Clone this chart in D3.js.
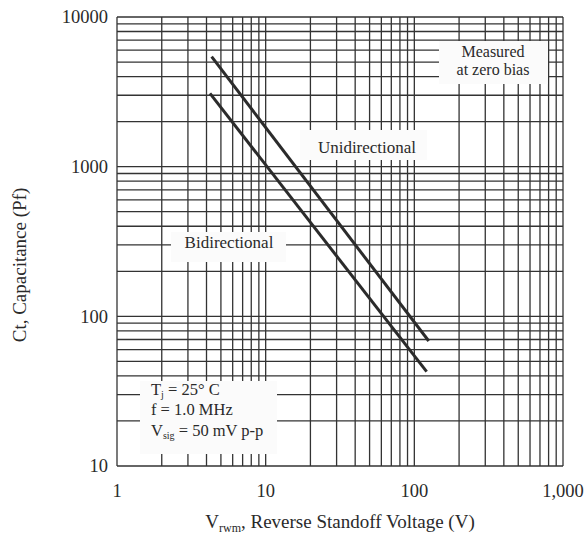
<!DOCTYPE html>
<html>
<head>
<meta charset="utf-8">
<script src="https://cdn.jsdelivr.net/npm/d3@7"></script>
<style>
  html, body { margin: 0; padding: 0; background: #fff; }
  svg { display: block; }
  text { font-family: "Liberation Serif", "Times New Roman", serif; fill: #2a2a2a; }
</style>
</head>
<body>
<svg id="chart" width="586" height="534"></svg>
<script>
// ---- data ----
const xTickValues = [1, 10, 100, 1000];
const xTickLabels = ["1", "10", "100", "1,000"];
const yTickValues = [10, 100, 1000, 10000];
const yTickLabels = ["10", "100", "1000", "10000"];

// Unidirectional curve (V, pF)
const uniVoltage = [4.33, 125];
const uniCap = [5430, 68.4];
// Bidirectional curve (V, pF)
const biVoltage = [4.22, 121];
const biCap = [3090, 42.7];

// ---- layout ----
const svg = d3.select("#chart");
const pLeft = 117, pRight = 563, pTop = 17, pBottom = 466;
const ink = "#333";

const x = d3.scaleLog().domain([1, 1000]).range([pLeft, pRight]);
const y = d3.scaleLog().domain([10, 10000]).range([pBottom, pTop]);

// grid
const grid = svg.append("g").attr("stroke", ink).attr("stroke-width", 1.3);
grid.selectAll("line.v").data(x.ticks()).join("line")
  .attr("class", "v")
  .attr("x1", d => x(d)).attr("x2", d => x(d))
  .attr("y1", pTop).attr("y2", pBottom);
grid.selectAll("line.h").data(y.ticks()).join("line")
  .attr("class", "h")
  .attr("x1", pLeft).attr("x2", pRight)
  .attr("y1", d => y(d)).attr("y2", d => y(d));

// curves
const line = d3.line().x(d => x(d[0])).y(d => y(d[1]));
const curves = [d3.zip(uniVoltage, uniCap), d3.zip(biVoltage, biCap)];
svg.append("g").selectAll("path").data(curves).join("path")
  .attr("d", line)
  .attr("fill", "none")
  .attr("stroke", "#2b2b2b")
  .attr("stroke-width", 3);

// annotation boxes
function box(x0, y0, w, h) {
  svg.append("rect").attr("x", x0).attr("y", y0).attr("width", w).attr("height", h)
    .attr("fill", "#fbfbfb");
}
box(439, 41, 109, 43);
box(300, 130, 127, 30);
box(171, 232, 115, 30);
box(140, 381, 137, 73);

svg.append("text").attr("x", 493).attr("y", 57).attr("text-anchor", "middle")
  .attr("font-size", 16).text("Measured");
svg.append("text").attr("x", 493).attr("y", 75).attr("text-anchor", "middle")
  .attr("font-size", 16).text("at zero bias");
svg.append("text").attr("x", 367).attr("y", 153).attr("text-anchor", "middle")
  .attr("font-size", 17).text("Unidirectional");
svg.append("text").attr("x", 229).attr("y", 248).attr("text-anchor", "middle")
  .attr("font-size", 17).text("Bidirectional");

const cond = svg.append("g").attr("font-size", 16.5);
const t1 = cond.append("text").attr("x", 151).attr("y", 395);
t1.append("tspan").text("T");
t1.append("tspan").attr("font-size", 10).attr("dy", 3).text("j");
t1.append("tspan").attr("dy", -3).text(" = 25° C");
cond.append("text").attr("x", 151).attr("y", 415).text("f = 1.0 MHz");
const t3 = cond.append("text").attr("x", 151).attr("y", 436);
t3.append("tspan").text("V");
t3.append("tspan").attr("font-size", 10).attr("dy", 3).text("sig");
t3.append("tspan").attr("dy", -3).text(" = 50 mV p-p");

// tick labels
svg.append("g").selectAll("text").data(xTickValues).join("text")
  .attr("x", d => x(d)).attr("y", 497)
  .attr("text-anchor", "middle").attr("font-size", 18.5)
  .text((d, i) => xTickLabels[i]);
svg.append("g").selectAll("text").data(yTickValues).join("text")
  .attr("x", 108).attr("y", d => y(d)).attr("dy", "0.35em")
  .attr("text-anchor", "end").attr("font-size", 18.5)
  .text((d, i) => yTickLabels[i]);

// axis titles
const xt = svg.append("text").attr("x", 340).attr("y", 528)
  .attr("text-anchor", "middle").attr("font-size", 19);
xt.append("tspan").text("V");
xt.append("tspan").attr("font-size", 12).attr("dy", 4).text("rwm");
xt.append("tspan").attr("dy", -4).text(", Reverse Standoff Voltage (V)");

svg.append("text")
  .attr("transform", "translate(26,265) rotate(-90)")
  .attr("text-anchor", "middle").attr("font-size", 19)
  .text("Ct, Capacitance (Pf)");
</script>
</body>
</html>
